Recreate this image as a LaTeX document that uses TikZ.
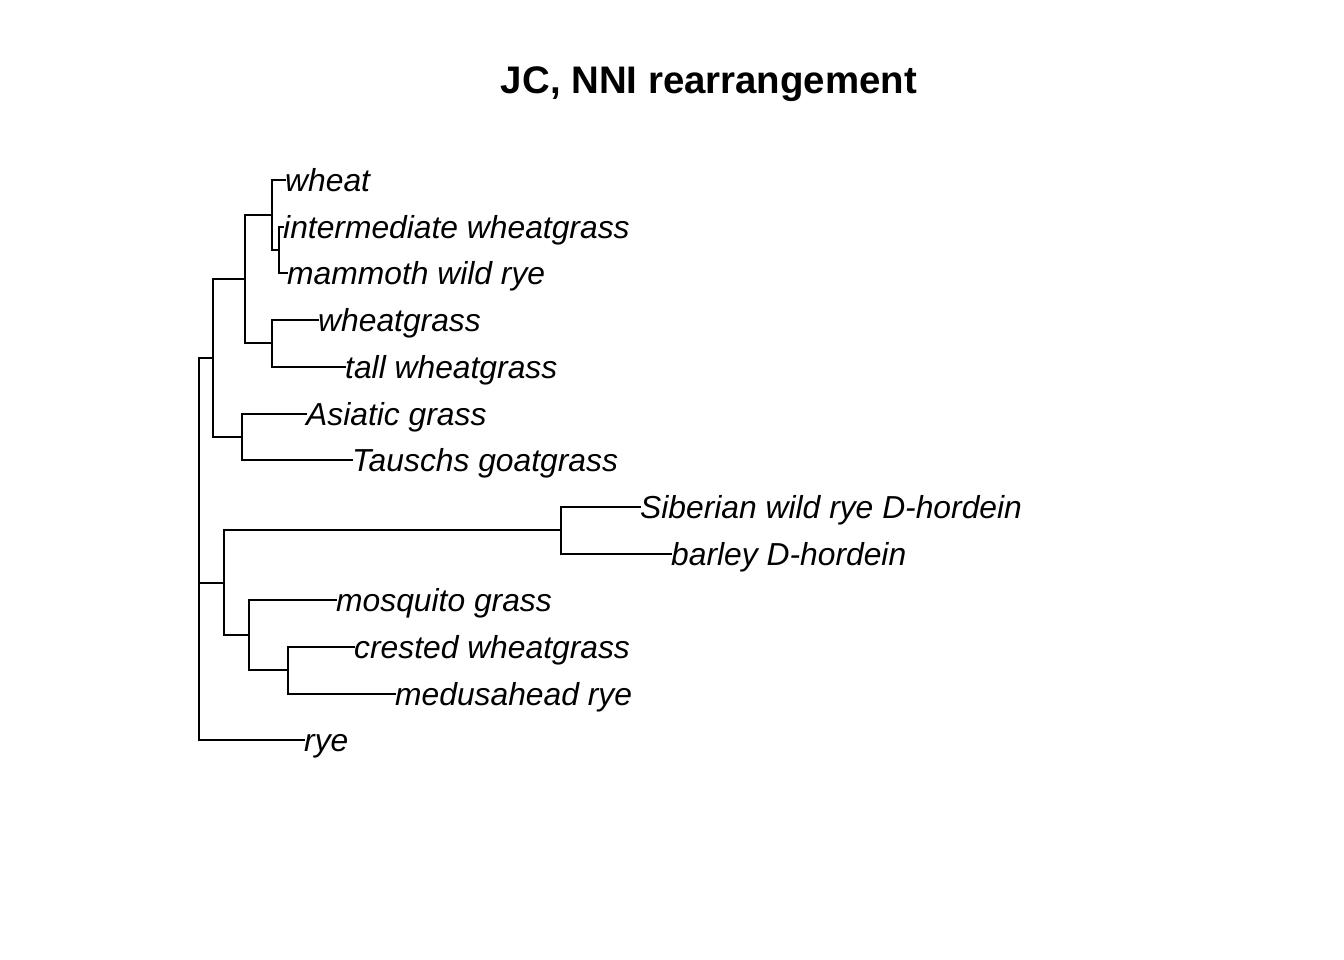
\documentclass[tikz,border=0pt]{standalone}
\usepackage{fontspec}
\setmainfont{Liberation Sans}
\begin{document}
\begin{tikzpicture}[x=1pt,y=-1pt,
  edge/.style={line width=2pt,line cap=rect},
  tiplabel/.style={anchor=base west,inner sep=0pt,font=\fontsize{31.8}{38}\selectfont\itshape},
  titlelabel/.style={anchor=base,inner sep=0pt,font=\fontsize{38.4}{46}\selectfont\bfseries}]
\useasboundingbox (0,0) rectangle (1344,960);
\node[titlelabel] (title) at (709,93.5) {JC, NNI rearrangement};
% tips
\coordinate (t1) at (285,180);
\coordinate (t2) at (283,226.7);
\coordinate (t3) at (287,273.4);
\coordinate (t4) at (318,320.1);
\coordinate (t5) at (345,366.8);
\coordinate (t6) at (306,413.5);
\coordinate (t7) at (352,460.2);
\coordinate (t8) at (640,506.9);
\coordinate (t9) at (671,553.6);
\coordinate (t10) at (336,600.3);
\coordinate (t11) at (354,647);
\coordinate (t12) at (395,693.7);
\coordinate (t13) at (304,740.4);
% internal nodes
\coordinate (n1) at (279,250.05);
\coordinate (n2) at (272,215.03);
\coordinate (n3) at (272,343.45);
\coordinate (n4) at (244.5,279.24);
\coordinate (n5) at (242,436.85);
\coordinate (n6) at (213,358.05);
\coordinate (n7) at (561,530.25);
\coordinate (n8) at (288,670.35);
\coordinate (n9) at (249,635.33);
\coordinate (n10) at (224,582.79);
\coordinate (root) at (198.5,582.79);
% labels
\foreach \t/\lab in {t1/wheat,t2/intermediate wheatgrass,t3/mammoth wild rye,t4/wheatgrass,t5/tall wheatgrass,t6/Asiatic grass,t7/Tauschs goatgrass,t8/Siberian wild rye D-hordein,t9/barley D-hordein,t10/mosquito grass,t11/crested wheatgrass,t12/medusahead rye,t13/rye}
  \node[tiplabel] (l\t) at ([yshift=-11.5pt]\t) {\lab};
% edges (rectangular cladogram)
\draw[edge] (t2) -| (n1) |- (t3);
\draw[edge] (t1) -| (n2) |- (n1);
\draw[edge] (t4) -| (n3) |- (t5);
\draw[edge] (n2) -| (n4) |- (n3);
\draw[edge] (n4) -| (n6);
\draw[edge] (t6) -| (n5) |- (t7);
\draw[edge] (n6) |- (n5);
\draw[edge] (t8) -| (n7) |- (t9);
\draw[edge] (t11) -| (n8) |- (t12);
\draw[edge] (t10) -| (n9) |- (n8);
\draw[edge] (n7) -| (n10) |- (n9);
\draw[edge] (n6) -| (root |- n6) -- (root |- t13) -- (t13);
\draw[edge] (n10) -- (root);
\end{tikzpicture}
\end{document}
